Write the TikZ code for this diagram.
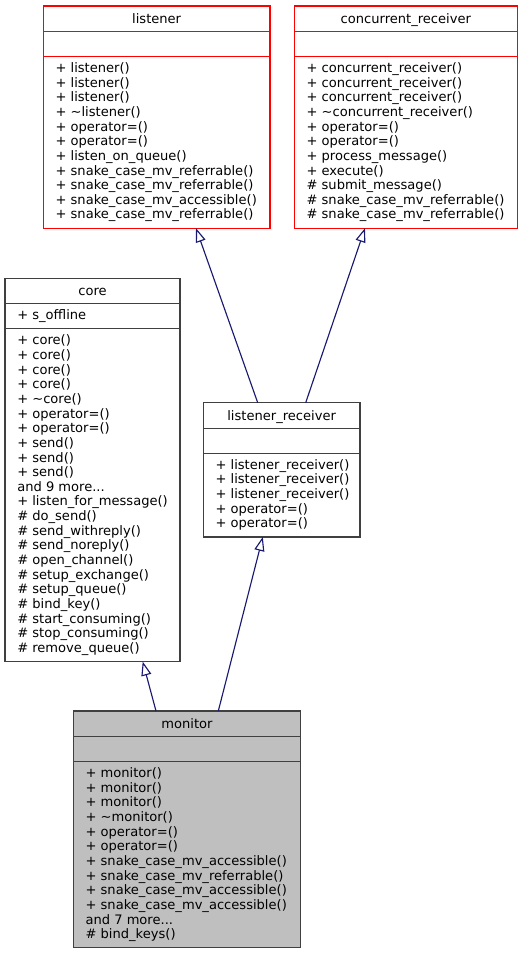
\documentclass[tikz,border=0pt]{standalone}
\usepackage{fontspec}
\setmainfont{DejaVu Sans}
\usetikzlibrary{arrows.meta,calc}
\definecolor{edgeblue}{HTML}{191970}
\definecolor{boxgray}{HTML}{404040}
\definecolor{monfill}{HTML}{BFBFBF}
\newcommand\tdots{...}
\tikzset{
  umltext/.style={inner sep=0pt, font=\fontsize{9.8}{11}\selectfont, anchor=base west},
  umltitle/.style={inner sep=0pt, font=\fontsize{9.8}{11}\selectfont, anchor=base},
  redbox/.style={draw=red, line width=0.9pt},
  graybox/.style={draw=boxgray, line width=0.9pt},
  focusbox/.style={draw=boxgray, fill=monfill, line width=0.9pt},
  inh/.style={draw=edgeblue, line width=0.85pt, -{Triangle[open, length=10.5pt, width=7.5pt]}},
}
% #1 name, #2 x, #3 y, #4 width, #5 number of method lines, #6 title, #7 attribute, #8 methods, #9 style
\newcommand\umlbox[9]{%
  \pgfmathsetmacro\boxh{61+#5*14.65}%
  \node[#9, anchor=north west, inner sep=0pt, outer sep=0pt,
        minimum width={#4*0.75pt}, minimum height={\boxh*0.75pt}] (#1) at (#2,#3) {};
  \draw[#9, fill=none] ($(#1.north west)+(0,25.5)$) -- ++(#4,0);
  \draw[#9, fill=none] ($(#1.north west)+(0,50.5)$) -- ++(#4,0);
  \node[umltitle] (#1-t) at ($(#1.north west)+({#4/2},17.5)$) {#6};
  \if\relax\detokenize{#7}\relax\else
    \node[umltext] (#1-a) at ($(#1.north west)+(12,41.5)$) {#7};
  \fi
  \foreach \t [count=\i] in {#8} {
    \node[umltext] (#1-m\i) at ($(#1.north west)+(12,{66.5+(\i-1)*14.65})$) {\t};
  }%
}
\begin{document}
\begin{tikzpicture}[x=0.75pt,y=-0.75pt]
\useasboundingbox (0,0) rectangle (523,955);

\umlbox{listener}{43.3}{6}{226.7}{11}{listener}{}{%
+ listener(),+ listener(),+ listener(),+ \textasciitilde listener(),+ operator=(),+ operator=(),%
+ listen\_on\_queue(),+ snake\_case\_mv\_referrable(),+ snake\_case\_mv\_referrable(),%
+ snake\_case\_mv\_accessible(),+ snake\_case\_mv\_referrable()}{redbox}

\umlbox{cr}{294.3}{6}{223}{11}{concurrent\_receiver}{}{%
+ concurrent\_receiver(),+ concurrent\_receiver(),+ concurrent\_receiver(),%
+ \textasciitilde concurrent\_receiver(),+ operator=(),+ operator=(),+ process\_message(),%
+ execute(),\# submit\_message(),\# snake\_case\_mv\_referrable(),\# snake\_case\_mv\_referrable()}{redbox}

\umlbox{core}{5}{278.3}{175}{22}{core}{+ s\_offline}{%
+ core(),+ core(),+ core(),+ core(),+ \textasciitilde core(),+ operator=(),+ operator=(),%
+ send(),+ send(),+ send(),and 9 more\tdots,+ listen\_for\_message(),\# do\_send(),%
\# send\_withreply(),\# send\_noreply(),\# open\_channel(),\# setup\_exchange(),%
\# setup\_queue(),\# bind\_key(),\# start\_consuming(),\# stop\_consuming(),\# remove\_queue()}{graybox}

\umlbox{lr}{203.3}{402.7}{156.7}{5}{listener\_receiver}{}{%
+ listener\_receiver(),+ listener\_receiver(),+ listener\_receiver(),+ operator=(),+ operator=()}{graybox}

\umlbox{monitor}{73.3}{711}{227.4}{12}{monitor}{}{%
+ monitor(),+ monitor(),+ monitor(),+ \textasciitilde monitor(),+ operator=(),+ operator=(),%
+ snake\_case\_mv\_accessible(),+ snake\_case\_mv\_referrable(),+ snake\_case\_mv\_accessible(),%
+ snake\_case\_mv\_accessible(),and 7 more\tdots,\# bind\_keys()}{focusbox}

\draw[inh] ($(lr.north west)+(54.4,0)$) -- ($(listener.south west)+(152.7,0)$);
\draw[inh] ($(lr.north west)+(102.4,0)$) -- ($(cr.south west)+(70.7,0)$);
\draw[inh] ($(monitor.north west)+(82.7,0)$) -- ($(core.south west)+(137.7,0)$);
\draw[inh] ($(monitor.north west)+(145,0)$) -- ($(lr.south west)+(59.5,0)$);
\end{tikzpicture}
\end{document}
